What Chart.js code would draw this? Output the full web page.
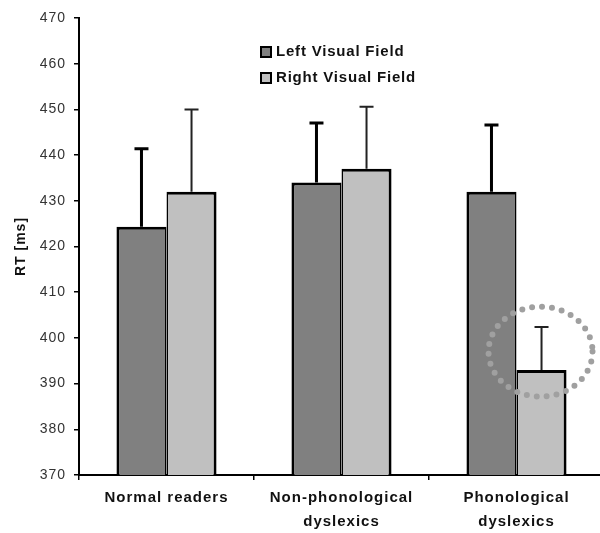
<!DOCTYPE html>
<html>
<head>
<meta charset="utf-8">
<script src="https://cdn.jsdelivr.net/npm/chart.js@4/dist/chart.umd.min.js"></script>
<style>
  html, body { margin: 0; padding: 0; background: #fff; overflow: hidden; }
  #wrap { width: 604px; height: 533px; }
</style>
</head>
<body>
<div id="wrap"><canvas id="rtChart"></canvas></div>
<script>
// カテゴリとデータ
const groups = [["Normal readers"], ["Non-phonological", "dyslexics"], ["Phonological", "dyslexics"]];
const seriesNames = ["Left Visual Field", "Right Visual Field"];
const leftRT = [424.3, 434, 432];
const rightRT = [432, 437, 393];
// 誤差棒の上端
const leftErrTop = [441.4, 447, 446.6];
const rightErrTop = [450, 450.6, 402.4];
const yTicks = [370, 380, 390, 400, 410, 420, 430, 440, 450, 460, 470];
// 点線の円で囲む値（音韻性ディスレクシア・右視野）
const highlight = { group: 2, value: 397 };

const FONT = "'Liberation Sans', Arial, sans-serif";

// 文字間隔（キャンバスのリセット後にも設定し直す）
const letterSpacing = {
  id: "letterSpacing",
  beforeLayout(chart) {
    chart.ctx.letterSpacing = "1px";
  },
  beforeDraw(chart) {
    chart.ctx.letterSpacing = "1px";
  },
};

// 誤差棒（上側のみ）
const errorBars = {
  id: "errorBars",
  afterDatasetsDraw(chart) {
    const ctx = chart.ctx;
    const y = chart.scales.y;
    const tops = [leftErrTop, rightErrTop];
    const widths = [3, 2];
    tops.forEach((arr, di) => {
      const meta = chart.getDatasetMeta(di);
      meta.data.forEach((bar, i) => {
        const yTop = y.getPixelForValue(arr[i]);
        ctx.save();
        ctx.strokeStyle = di === 0 ? "#000" : "#222";
        ctx.lineWidth = widths[di];
        ctx.beginPath();
        ctx.moveTo(bar.x, bar.y);
        ctx.lineTo(bar.x, yTop);
        ctx.moveTo(bar.x - 7, yTop);
        ctx.lineTo(bar.x + 7, yTop);
        ctx.stroke();
        ctx.restore();
      });
    });
  },
};

// 強調用の点線の円
const dottedCircle = {
  id: "dottedCircle",
  afterDatasetsDraw(chart) {
    const ctx = chart.ctx;
    const bar = chart.getDatasetMeta(1).data[highlight.group];
    const cy = chart.scales.y.getPixelForValue(highlight.value);
    ctx.save();
    ctx.strokeStyle = "#a0a0a0";
    ctx.lineWidth = 6;
    ctx.lineCap = "round";
    ctx.setLineDash([0, 10]);
    ctx.beginPath();
    ctx.ellipse(bar.x - 1, cy, 52, 45, 0, 0, Math.PI * 2);
    ctx.stroke();
    ctx.restore();
  },
};

// 凡例（グラフ内に描く）
const innerLegend = {
  id: "innerLegend",
  afterDraw(chart) {
    const ctx = chart.ctx;
    const colors = ["#808080", "#c0c0c0"];
    const x0 = 261;
    const ys = [52, 78];
    ctx.save();
    ctx.font = "bold 15px " + FONT;
    ctx.letterSpacing = "0.8px";
    ctx.textBaseline = "middle";
    seriesNames.forEach((name, i) => {
      ctx.fillStyle = colors[i];
      ctx.fillRect(x0, ys[i] - 5, 10, 10);
      ctx.strokeStyle = "#000";
      ctx.lineWidth = 2;
      ctx.strokeRect(x0, ys[i] - 5, 10, 10);
      ctx.fillStyle = "#111";
      ctx.fillText(name, x0 + 15, ys[i]);
    });
    ctx.restore();
  },
};

new Chart(document.getElementById("rtChart"), {
  type: "bar",
  data: {
    labels: groups,
    datasets: [
      {
        label: seriesNames[0],
        data: leftRT,
        backgroundColor: "#808080",
        borderColor: "#000",
        borderWidth: { left: 3, top: 3, right: 1.5, bottom: 2 },
        borderSkipped: false,
        categoryPercentage: 0.572,
        barPercentage: 1,
      },
      {
        label: seriesNames[1],
        data: rightRT,
        backgroundColor: "#c0c0c0",
        borderColor: "#000",
        borderWidth: { left: 1.5, top: 3, right: 3, bottom: 2 },
        borderSkipped: false,
        categoryPercentage: 0.572,
        barPercentage: 1,
      },
    ],
  },
  options: {
    responsive: true,
    maintainAspectRatio: false,
    animation: false,
    layout: { padding: { top: 18, right: 0, left: 0, bottom: 0 } },
    plugins: {
      legend: { display: false },
      tooltip: { enabled: false },
    },
    scales: {
      x: {
        grid: {
          offset: true,
          drawOnChartArea: false,
          drawTicks: true,
          tickLength: 5,
          color: "#000",
          lineWidth: 1.5,
        },
        border: { color: "#000", width: 2 },
        ticks: {
          color: "#111",
          padding: 5,
          maxRotation: 0,
          font: { family: FONT, size: 15, weight: "bold", lineHeight: 1.65 },
        },
        afterFit(scale) {
          scale.height = 58;
        },
      },
      y: {
        min: 370,
        max: 470,
        afterBuildTicks(scale) {
          scale.ticks = yTicks.map((v) => ({ value: v }));
        },
        grid: {
          drawOnChartArea: false,
          drawTicks: true,
          tickLength: 5,
          color: "#000",
          lineWidth: 1.5,
        },
        border: { color: "#000", width: 2 },
        ticks: {
          color: "#333",
          padding: 8,
          font: { family: FONT, size: 14 },
        },
        title: {
          display: true,
          text: "RT [ms]",
          color: "#111",
          padding: { top: 13, bottom: 0 },
          font: { family: FONT, size: 14, weight: "bold" },
        },
        afterFit(scale) {
          scale.width = 79;
        },
      },
    },
  },
  plugins: [letterSpacing, errorBars, dottedCircle, innerLegend],
});
</script>
</body>
</html>
